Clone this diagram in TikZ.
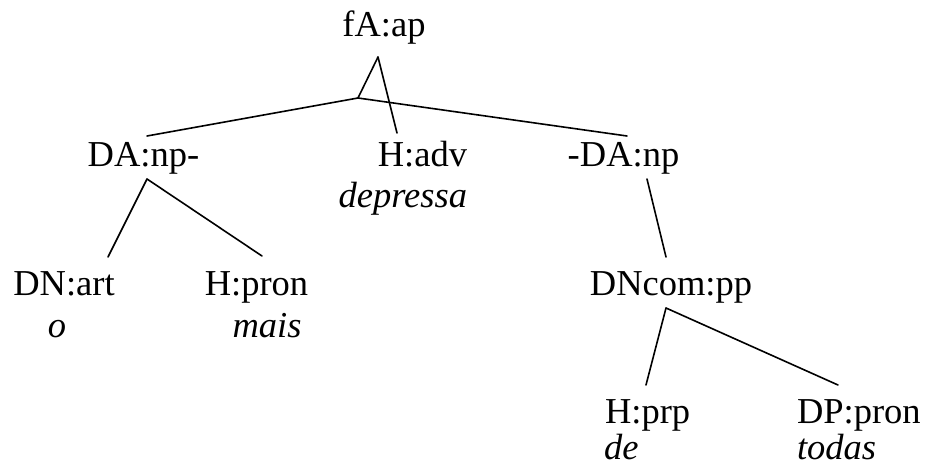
\documentclass[tikz,border=0pt]{standalone}
\usepackage{fontspec}
\setmainfont{Liberation Serif}
\begin{document}
\begin{tikzpicture}[x=1pt,y=-1pt,
  lbl/.style={inner sep=0pt,outer sep=0pt,font=\fontsize{36.5}{41}\selectfont},
  wrd/.style={lbl,font=\fontsize{36.5}{41}\selectfont\itshape},
  branch/.style={line width=1.6pt,line cap=round}]
\useasboundingbox (0,0) rectangle (927,470);
% labels
\node[lbl,anchor=base] (fa) at (384,37) {fA:ap};
\node[lbl,anchor=base] (da) at (143.5,167) {DA:np-};
\node[lbl,anchor=base east] (hadv) at (467,167) {H:adv};
\node[wrd,anchor=base east] (depressa) at (467,208) {depressa};
\node[lbl,anchor=base] (dda) at (623.5,167) {-DA:np};
\node[lbl,anchor=base] (dn) at (64,296) {DN:art};
\node[wrd,anchor=base] (o) at (57,338) {o};
\node[lbl,anchor=base] (hpron) at (256.5,296) {H:pron};
\node[wrd,anchor=base] (mais) at (267,338) {mais};
\node[lbl,anchor=base] (dncom) at (671,296) {DNcom:pp};
\node[lbl,anchor=base west] (hprp) at (605,424) {H:prp};
\node[wrd,anchor=base west,text depth=0pt] (de) at (604,460) {de};
\node[lbl,anchor=base west] (dp) at (797,424) {DP:pron};
\node[wrd,anchor=base west,text depth=0pt] (todas) at (797,460) {todas};
% branch points
\coordinate (fa-b) at (378,57);
\coordinate (tri) at (358,98);
\coordinate (hadv-t) at (397,133);
\coordinate (da-t) at (147,136);
\coordinate (dda-t) at (627,136);
\coordinate (da-b) at (147,179);
\coordinate (dn-t) at (108,257);
\coordinate (hpron-t) at (262,256);
\coordinate (dda-b) at (647,179);
\coordinate (dncom-t) at (666,257);
\coordinate (dncom-b) at (666,308);
\coordinate (hprp-t) at (646,385);
\coordinate (dp-t) at (838,385);
% connectors
\draw[branch] (fa-b) -- (tri);
\draw[branch] (fa-b) -- (hadv-t);
\draw[branch] (tri) -- (da-t);
\draw[branch] (tri) -- (dda-t);
\draw[branch] (da-b) -- (dn-t);
\draw[branch] (da-b) -- (hpron-t);
\draw[branch] (dda-b) -- (dncom-t);
\draw[branch] (dncom-b) -- (hprp-t);
\draw[branch] (dncom-b) -- (dp-t);
\end{tikzpicture}
\end{document}
